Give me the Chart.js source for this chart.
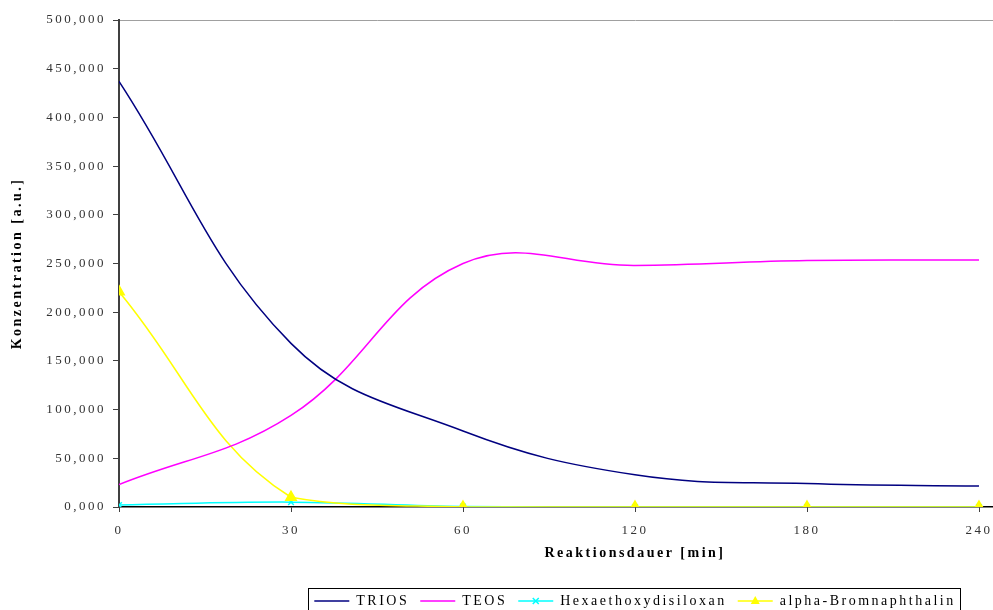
<!DOCTYPE html>
<html>
<head>
<meta charset="utf-8">
<title>Reaktionsdauer</title>
<script src="https://cdn.jsdelivr.net/npm/chart.js@4.4.1/dist/chart.umd.min.js"></script>
<style>
  html, body { margin: 0; padding: 0; background: #fff; overflow: hidden; }
  #wrap { position: relative; width: 1160px; height: 610px; }
</style>
</head>
<body>
<div id="wrap"><canvas id="chart"></canvas></div>
<script>
// Reaktionsdauer [min] (equally spaced categories)
const labels = ['0', '30', '60', '120', '180', '240'];
// Konzentration [a.u.] (axis runs 0 .. 500)
const trios = [437, 168, 78, 33, 24, 21.5];
const teos = [23, 94, 250, 248, 253, 253.5];
const hexa = [2, 5, 0.5, 0, 0, 0];
const brom = [221, 10, 0, 0, 0, 0];

const serif = 'Liberation Serif';
const pts = arr => arr.map((y, i) => ({ x: i, y: y }));

// wide letter spacing like the old Excel rendering
const spacing = {
    id: 'spacing',
    beforeUpdate(c) { c.ctx.letterSpacing = '2.5px'; },
    beforeDraw(c) { c.ctx.letterSpacing = '2.5px'; }
};

// legend sits under the plot area, with markers and a frame
const legendBox = {
    id: 'legendBox',
    afterLayout(c) {
        const lg = c.legend;
        lg.left = c.chartArea.left;
        lg.right = c.chartArea.right;
        lg.width = lg.right - lg.left;
        lg.top += 8;
        lg.bottom += 8;
    },
    afterDraw(c) {
        const lg = c.legend;
        const hb = lg.legendHitBoxes;
        if (!hb || !hb.length) return;
        const ctx = c.ctx;
        const bw = lg.options.labels.boxWidth;
        ctx.save();
        hb.forEach((b, i) => {
            const ds = c.data.datasets[lg.legendItems[i].datasetIndex];
            const cx = b.left + bw / 2, cy = b.top + 7;
            if (ds.pointStyle === 'crossRot') {
                ctx.strokeStyle = ds.borderColor;
                ctx.lineWidth = 1.5;
                ctx.beginPath();
                ctx.moveTo(cx - 3, cy - 3); ctx.lineTo(cx + 3, cy + 3);
                ctx.moveTo(cx + 3, cy - 3); ctx.lineTo(cx - 3, cy + 3);
                ctx.stroke();
            } else if (ds.pointStyle === 'triangle') {
                ctx.fillStyle = ds.borderColor;
                ctx.beginPath();
                ctx.moveTo(cx, cy - 5);
                ctx.lineTo(cx + 4.5, cy + 3);
                ctx.lineTo(cx - 4.5, cy + 3);
                ctx.closePath();
                ctx.fill();
            }
        });
        const first = hb[0], last = hb[hb.length - 1];
        ctx.strokeStyle = '#000';
        ctx.lineWidth = 1;
        ctx.strokeRect(Math.round(first.left - 6) + 0.5, Math.round(first.top - 6) + 0.5,
            Math.round(last.left + last.width - first.left + 11), 40);
        ctx.restore();
    }
};

new Chart(document.getElementById('chart'), {
    type: 'line',
    data: {
        datasets: [
            { label: 'TRIOS', data: pts(trios), borderColor: '#000080', backgroundColor: '#000080',
              borderWidth: 1.5, pointRadius: 0, tension: 0.4 },
            { label: 'TEOS', data: pts(teos), borderColor: '#ff00ff', backgroundColor: '#ff00ff',
              borderWidth: 1.5, pointRadius: 0, tension: 0.4 },
            { label: 'Hexaethoxydisiloxan', data: pts(hexa), borderColor: '#00ffff', backgroundColor: '#00ffff',
              borderWidth: 1.5, pointStyle: 'crossRot', pointRadius: 4, pointBorderWidth: 1.5, tension: 0.4, order: 1 },
            { label: 'alpha-Bromnaphthalin', data: pts(brom), borderColor: '#ffff00', backgroundColor: '#ffff00',
              borderWidth: 1.5, pointStyle: 'triangle', pointRadius: 6, tension: 0.4 }
        ]
    },
    options: {
        responsive: true,
        maintainAspectRatio: false,
        animation: false,
        layout: { padding: { top: 20, right: 9, left: 0, bottom: 0 } },
        plugins: {
            tooltip: { enabled: false },
            legend: {
                position: 'bottom',
                labels: {
                    font: { family: serif, size: 14 },
                    color: '#000',
                    boxWidth: 35,
                    boxHeight: 1.5,
                    padding: 11,
                    sort: (a, b) => a.datasetIndex - b.datasetIndex,
                    generateLabels(c) {
                        return Chart.defaults.plugins.legend.labels.generateLabels(c)
                            .map(l => Object.assign(l, { fillStyle: l.strokeStyle, lineWidth: 0 }));
                    }
                }
            }
        },
        scales: {
            x: {
                type: 'linear',
                min: 0,
                max: 6,
                afterFit(s) { s.height = 68; },
                afterBuildTicks(s) { s.ticks = labels.map((l, i) => ({ value: i })); },
                border: { color: '#000', width: 1.5 },
                grid: { color: 'rgba(0,0,0,0)', tickColor: '#404040', tickLength: 5 },
                ticks: {
                    padding: 11, color: '#333', autoSkip: false, maxRotation: 0,
                    font: { family: serif, size: 13 },
                    callback: v => labels[v]
                },
                title: {
                    display: true, text: 'Reaktionsdauer [min]', color: '#000',
                    font: { family: serif, size: 14, weight: 'bold' },
                    padding: { top: 0, bottom: 13 }
                }
            },
            y: {
                min: 0,
                max: 500,
                afterFit(s) { s.width = 119; },
                border: { color: '#404040', width: 2 },
                grid: {
                    color: c => c.tick && c.tick.value === 500 ? '#a0a0a0' : 'rgba(0,0,0,0)',
                    tickColor: '#404040', tickLength: 6
                },
                ticks: {
                    stepSize: 50, padding: 7, color: '#333',
                    font: { family: serif, size: 13 },
                    callback: v => v.toFixed(3).replace('.', ',')
                },
                title: {
                    display: true, text: 'Konzentration [a.u.]', color: '#000',
                    font: { family: serif, size: 14, weight: 'bold' },
                    padding: { top: 9, bottom: 0 }
                }
            }
        }
    },
    plugins: [spacing, legendBox]
});
</script>
</body>
</html>
